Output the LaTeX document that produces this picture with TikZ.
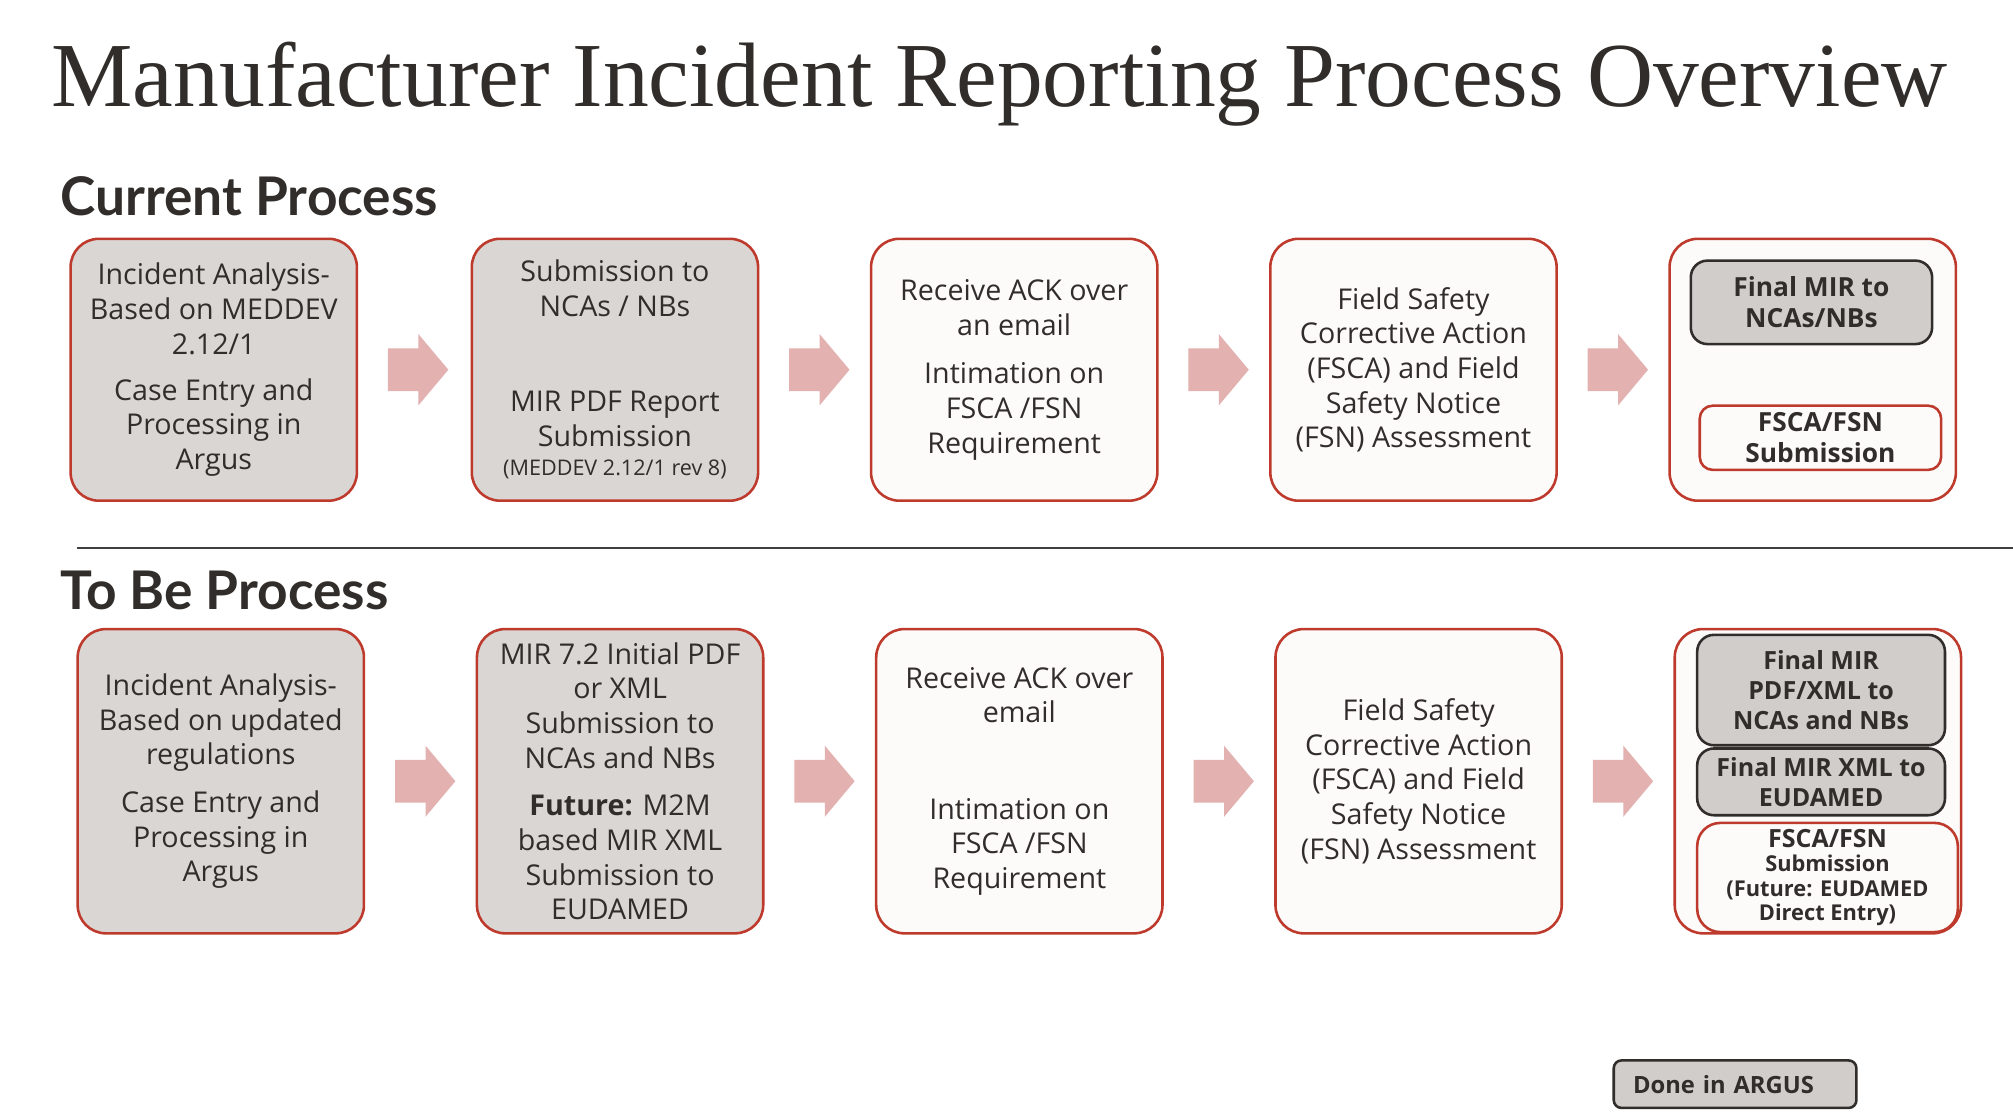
\documentclass[tikz,border=0pt]{standalone}
\usepackage{fontspec}
\setmainfont{Open Sans}
\newfontfamily\titlefont{Liberation Serif}
\newfontfamily\headfont{Lato}
\usetikzlibrary{shapes.arrows,calc}
\definecolor{txt}{HTML}{312D2A}
\definecolor{boxred}{HTML}{BE3A2C}
\definecolor{grayfill}{HTML}{DAD6D4}
\definecolor{innergray}{HTML}{D1CDCB}
\definecolor{whitefill}{HTML}{FCFBFA}
\definecolor{arrowc}{HTML}{E2B1B0}
\definecolor{sepline}{HTML}{3F3F3F}
\tikzset{
  stagebox/.style={draw=boxred, line width=2pt, rounded corners=22pt, align=center,
    text=txt, font=\fontsize{22.3}{27}\selectfont, inner sep=0pt},
  graystage/.style={stagebox, fill=grayfill},
  whitestage/.style={stagebox, fill=whitefill},
  row1/.style={minimum width=223pt, minimum height=204pt},
  row2/.style={minimum width=223pt, minimum height=237pt},
  darkinner/.style={draw=txt, line width=2pt, fill=innergray, rounded corners=13pt,
    align=center, text=txt, inner sep=0pt, font=\bfseries\fontsize{20.5}{24}\selectfont},
  redinner/.style={draw=boxred, line width=2pt, fill=whitefill, rounded corners=13pt,
    align=center, text=txt, inner sep=0pt, font=\bfseries\fontsize{20.5}{24}\selectfont},
  flowarrow/.style={single arrow, fill=arrowc, draw=none, inner xsep=0pt, inner ysep=16.5pt,
    minimum height=47pt, single arrow head extend=11pt, single arrow tip angle=100,
    single arrow head indent=0pt, anchor=tail},
  heading/.style={anchor=base west, text=txt, font=\headfont\bfseries\fontsize{41.5}{48}\selectfont, inner sep=0pt},
}
\begin{document}
\begin{tikzpicture}[x=1pt,y=-1pt]
\useasboundingbox (0,0) rectangle (1568,868);
\fill[white] (0,0) rectangle (1568,868);
% title
\node[anchor=base west, inner sep=0pt, text=txt, font=\titlefont\fontsize{71.3}{80}\selectfont] (title) at (40,83) {Manufacturer Incident Reporting Process Overview};
% headings
\node[heading] (cur) at (47,168) {Current Process};
\node[heading] (tobe) at (47,475) {To Be Process};
% separator
\coordinate (sepL) at (60,427);
\coordinate (sepR) at (1568,427);
\draw[sepline, line width=1.5pt] (sepL) -- (sepR);

% ---------- current process ----------
\node[graystage,row1] (c1) at (166.5,288) {Incident Analysis-\\Based on MEDDEV\\2.12/1\\[9pt]Case Entry and\\Processing in\\Argus};
\node[graystage,row1] (c2) at (479,288) {Submission to\\NCAs / NBs\\[47pt]MIR PDF Report\\Submission\\[-4pt]{\fontsize{16.8}{20}\selectfont(MEDDEV 2.12/1 rev 8)}};
\node[whitestage,row1] (c3) at (790,288) {Receive ACK over\\an email\\[11pt]Intimation on\\FSCA /FSN\\Requirement};
\node[whitestage,row1] (c4) at (1101,288) {Field Safety\\Corrective Action\\(FSCA) and Field\\Safety Notice\\(FSN) Assessment};
\node[whitestage,row1] (c5) at (1412,288) {};
\node[darkinner, minimum width=188pt, minimum height=65pt] (c5a) at (1411,235.5) {Final MIR to\\NCAs/NBs};
\node[redinner, minimum width=188pt, minimum height=50pt, rounded corners=10pt] (c5b) at (1418,341) {FSCA/FSN\\Submission};
\foreach \a/\b in {c1/c2,c2/c3,c3/c4,c4/c5}
  \node[flowarrow] (arr-\a) at ($(\a.east)+(23,0)$) {};

% ---------- to be process ----------
\node[graystage,row2] (t1) at (172,608.5) {Incident Analysis-\\Based on updated\\regulations\\[10pt]Case Entry and\\Processing in\\Argus};
\node[graystage,row2] (t2) at (483,608.5) {MIR 7.2 Initial PDF\\or XML\\Submission to\\NCAs and NBs\\[10pt]{\bfseries Future:} M2M\\based MIR XML\\Submission to\\EUDAMED};
\node[whitestage,row2] (t3) at (794,608.5) {Receive ACK over\\email\\[48pt]Intimation on\\FSCA /FSN\\Requirement};
\node[whitestage,row2] (t4) at (1105,608.5) {Field Safety\\Corrective Action\\(FSCA) and Field\\Safety Notice\\(FSN) Assessment};
\node[whitestage,row2] (t5) at (1416,608.5) {};
\node[darkinner, minimum width=193pt, minimum height=86pt, font=\bfseries\fontsize{19.5}{23.5}\selectfont] (t5a) at (1418.5,537.5) {Final MIR\\PDF/XML to\\NCAs and NBs};
\node[darkinner, minimum width=193pt, minimum height=52pt, font=\bfseries\fontsize{19.5}{23}\selectfont] (t5b) at (1418.5,609) {Final MIR XML to\\EUDAMED};
\node[redinner, minimum width=203pt, minimum height=85pt, rounded corners=18pt, font=\bfseries\fontsize{17}{19}\selectfont] (t5c) at (1423.5,683.5) {{\fontsize{19.5}{19}\selectfont FSCA/FSN}\\Submission\\(Future: EUDAMED\\Direct Entry)};
\foreach \a/\b in {t1/t2,t2/t3,t3/t4,t4/t5}
  \node[flowarrow] (arr-\a) at ($(\a.east)+(23,0)$) {};

% legend
\node[darkinner, rounded corners=6pt, minimum width=189pt, minimum height=37pt, inner xsep=15pt, text width=159pt, align=left, font=\bfseries\fontsize{18.5}{22}\selectfont] (done) at (1351.5,844.5) {Done in ARGUS};
\end{tikzpicture}
\end{document}
